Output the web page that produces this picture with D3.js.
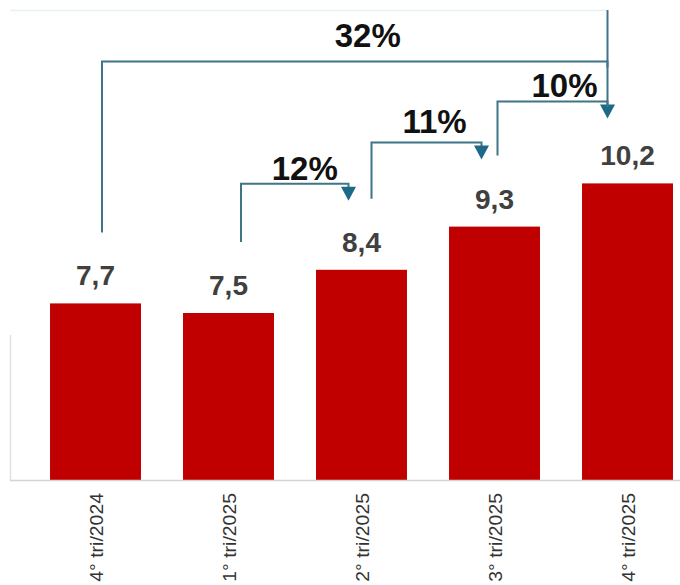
<!DOCTYPE html>
<html>
<head>
<meta charset="utf-8">
<script src="https://cdn.jsdelivr.net/npm/d3@7/dist/d3.min.js"></script>
<style>
  html, body { margin: 0; padding: 0; background: #ffffff; }
  svg { display: block; font-family: "Liberation Sans", Arial, sans-serif; }
</style>
</head>
<body>
<svg id="chart" width="680" height="585"></svg>
<script>
// ---- data ----
const categories = ["4° tri/2024", "1° tri/2025", "2° tri/2025", "3° tri/2025", "4° tri/2025"];
const values = [7.7, 7.5, 8.4, 9.3, 10.2];
const valueLabels = ["7,7", "7,5", "8,4", "9,3", "10,2"];
const growthFrom = [1, 2, 3, 0];
const growthTo = [2, 3, 4, 4];
const growthLabels = ["12%", "11%", "10%", "32%"];

// ---- layout ----
const W = 680, H = 585;
const svg = d3.select("#chart");

const x = d3.scaleBand()
  .domain(categories)
  .range([29, 694])
  .paddingInner(0.316)
  .paddingOuter(0.158);

const y = d3.scaleLinear()
  .domain([4, 12])
  .range([481, 97]);

const barColor = "#C00000";
const lineColor = "#3f7489";
const arrowColor = "#1e6889";

// faint frame remnants
svg.append("line").attr("x1", 10).attr("x2", 606).attr("y1", 10.5).attr("y2", 10.5)
  .attr("stroke", "#e6f2f2").attr("stroke-width", 1.5);
svg.append("line").attr("x1", 10.5).attr("x2", 10.5).attr("y1", 335).attr("y2", 480)
  .attr("stroke", "#e2e2e2").attr("stroke-width", 1.5);

// bars
svg.append("g").selectAll("rect")
  .data(values)
  .join("rect")
  .attr("x", (d, i) => x(categories[i]))
  .attr("y", d => y(d))
  .attr("width", x.bandwidth())
  .attr("height", d => 480 - y(d))
  .attr("fill", barColor);

// x axis (baseline + rotated labels)
const xAxis = d3.axisBottom(x).tickSize(0).tickPadding(0);
const gx = svg.append("g").attr("transform", "translate(0,480)").call(xAxis);
gx.select(".domain").attr("d", `M10,0.5H${W}`).attr("stroke", "#d4d4d4").attr("stroke-width", 1.5);
gx.selectAll(".tick text")
  .attr("transform", "translate(7.5,13) rotate(-90) scale(1.08,1)")
  .attr("text-anchor", "end")
  .attr("dy", "0")
  .attr("x", 0).attr("y", 0)
  .attr("font-family", "Liberation Sans, Arial, sans-serif")
  .attr("font-size", 18)
  .attr("fill", "#333333");

// value labels
svg.append("g").selectAll("text")
  .data(values)
  .join("text")
  .attr("x", (d, i) => x(categories[i]) + x.bandwidth() / 2)
  .attr("y", d => y(d) - 18)
  .attr("text-anchor", "middle")
  .attr("font-size", 28)
  .attr("font-weight", "bold")
  .attr("fill", "#404040")
  .text((d, i) => valueLabels[i]);

// growth connectors (layout nudges per connector: start dx, end dx, level offset above taller bar, text dx, text dy)
const cx = i => x(categories[i]) + x.bandwidth() / 2;
const nudges = [
  { sdx: 12.5, edx: -13, lift: 86, tdx: 10, tdy: -4 },
  { sdx: 10,   edx: -13, lift: 84, tdx: 8,  tdy: -10 },
  { sdx: 3,    edx: -20, lift: 82, tdx: 12, tdy: -4 },
  { sdx: 6.5,  edx: -20, lift: 122, tdx: 13, tdy: -14 }
];
const conn = svg.append("g");
growthLabels.forEach((lab, k) => {
  const a = growthFrom[k], b = growthTo[k], n = nudges[k];
  const x0 = cx(a) + n.sdx;
  const x1 = cx(b) + n.edx;
  const yStart = y(values[a]) - 71;
  const level = y(Math.max(...values.slice(a, b + 1))) - n.lift;
  conn.append("path")
    .attr("d", `M${x0},${yStart}V${level}H${x1}V${level + 6}`)
    .attr("fill", "none")
    .attr("stroke", lineColor)
    .attr("stroke-width", 2);
  if (k === 3) {
    conn.append("line").attr("x1", x1).attr("x2", x1).attr("y1", 10).attr("y2", level)
      .attr("stroke", lineColor).attr("stroke-width", 2);
    const lvl10 = y(Math.max(...values.slice(growthFrom[2], growthTo[2] + 1))) - nudges[2].lift;
    conn.append("line").attr("x1", x1).attr("x2", x1).attr("y1", level).attr("y2", lvl10 + 6)
      .attr("stroke", lineColor).attr("stroke-width", 2);
  } else {
    conn.append("path")
      .attr("d", `M${x1 - 7.5},${level + 3}L${x1 + 7.5},${level + 3}L${x1},${level + 17}Z`)
      .attr("fill", arrowColor);
  }
  conn.append("text")
    .attr("x", (x0 + x1) / 2 + n.tdx)
    .attr("y", level + n.tdy)
    .attr("text-anchor", "middle")
    .attr("font-size", 33)
    .attr("font-weight", "bold")
    .attr("fill", "#111111")
    .text(lab);
});
</script>
</body>
</html>
